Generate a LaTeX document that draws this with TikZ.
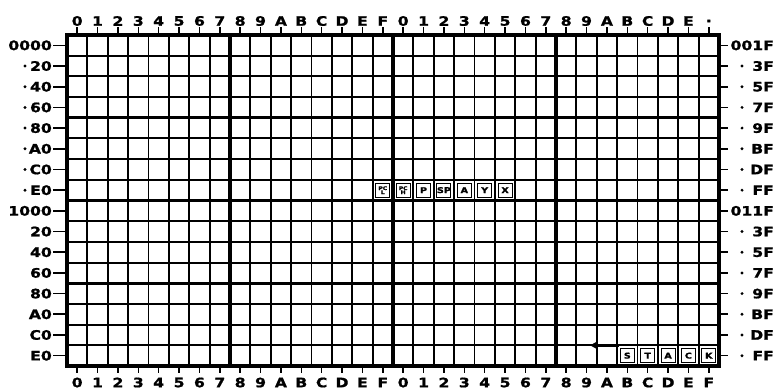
\documentclass[tikz,border=0pt]{standalone}
\usepackage{fontspec}
\setmainfont{DejaVu Sans}
\newfontfamily\labfont[FakeStretch=1.2,FakeBold=1.2]{DejaVu Sans Bold}
\usetikzlibrary{arrows.meta}
\begin{document}
\begin{tikzpicture}[x=1pt,y=-1pt,
  gridthin/.style={line width=1.9pt,black},
  gridthick/.style={line width=3.4pt,black},
  border/.style={line width=4.2pt,black},
  tickline/.style={line width=1.6pt,black},
  lab/.style={font=\labfont\fontsize{13}{13}\selectfont,inner sep=0pt},
  regbox/.style={draw,line width=1.1pt,minimum width=14pt,minimum height=14pt,inner sep=0pt,font=\labfont\fontsize{8}{8}\selectfont},
  regsmall/.style={draw,line width=1.1pt,minimum width=14pt,minimum height=14pt,inner sep=0pt,align=center,font=\labfont\fontsize{5}{5}\selectfont},
  stackarrow/.style={line width=2.8pt,-{Triangle[length=7pt,width=7pt]}}]
\useasboundingbox (0,0) rectangle (775,389);
\pgfmathsetmacro{\L}{67}
\pgfmathsetmacro{\R}{719}
\pgfmathsetmacro{\T}{35}
\pgfmathsetmacro{\B}{366}
\pgfmathsetmacro{\cw}{20.375}
\pgfmathsetmacro{\ch}{20.6875}
% grid
\foreach \i in {1,...,31} {
  \draw[gridthin] ({\L+\i*\cw},\T) -- ({\L+\i*\cw},\B);
}
\foreach \j in {1,...,15} {
  \draw[gridthin] (\L,{\T+\j*\ch}) -- (\R,{\T+\j*\ch});
}
\foreach \i in {8,16,24} {
  \draw[gridthick] ({\L+\i*\cw},\T) -- ({\L+\i*\cw},\B);
}
\foreach \j in {4,8,12} {
  \draw[gridthick] (\L,{\T+\j*\ch}) -- (\R,{\T+\j*\ch});
}
\draw[border] (\L,\T) rectangle (\R,\B);
% column labels
\foreach \t [count=\n from 0] in {0,1,2,3,4,5,6,7,8,9,A,B,C,D,E,F,0,1,2,3,4,5,6,7,8,9,A,B,C,D,E,.} {
  \node[lab] (top\n) at ({\L+(\n+0.5)*\cw},21) {\t};
  \draw[tickline] ({\L+(\n+0.5)*\cw},\T) -- ({\L+(\n+0.5)*\cw},27);
}
\foreach \t [count=\n from 0] in {0,1,2,3,4,5,6,7,8,9,A,B,C,D,E,F,0,1,2,3,4,5,6,7,8,9,A,B,C,D,E,F} {
  \node[lab] (bot\n) at ({\L+(\n+0.5)*\cw},382.5) {\t};
  \draw[tickline] ({\L+(\n+0.5)*\cw},\B) -- ({\L+(\n+0.5)*\cw},373);
}
% left row labels
\foreach \t [count=\n from 0] in {0000,20,40,60,80,A0,C0,E0,1000,20,40,60,80,A0,C0,E0} {
  \node[lab,anchor=east] (left\n) at (52,{\T+(\n+0.5)*\ch}) {\t};
  \draw[tickline] (left\n.east) ++(1,0) -- (\L,{\T+(\n+0.5)*\ch});
}
\foreach \n in {1,...,7} {
  \fill (25,{\T+(\n+0.5)*\ch}) circle (1.6pt);
}
% right row labels
\foreach \t [count=\n from 0] in {001F,3F,5F,7F,9F,BF,DF,FF,011F,3F,5F,7F,9F,BF,DF,FF} {
  \node[lab,anchor=east] (right\n) at (774,{\T+(\n+0.5)*\ch}) {\t};
  \draw[tickline] (\R,{\T+(\n+0.5)*\ch}) -- (728,{\T+(\n+0.5)*\ch});
}
\foreach \n in {1,...,7,9,10,11,12,13,14,15} {
  \fill (742,{\T+(\n+0.5)*\ch}) circle (1.6pt);
}
% registers in row E0
\node[regsmall] (pcl) at ({\L+15.5*\cw},{\T+7.5*\ch}) {PC\\[-1pt]L};
\node[regsmall] (pch) at ({\L+16.5*\cw},{\T+7.5*\ch}) {PC\\[-1pt]H};
\node[regbox] (regp) at ({\L+17.5*\cw},{\T+7.5*\ch}) {P};
\node[regbox] (regsp) at ({\L+18.5*\cw},{\T+7.5*\ch}) {SP};
\node[regbox] (rega) at ({\L+19.5*\cw},{\T+7.5*\ch}) {A};
\node[regbox] (regy) at ({\L+20.5*\cw},{\T+7.5*\ch}) {Y};
\node[regbox] (regx) at ({\L+21.5*\cw},{\T+7.5*\ch}) {X};
% stack
\node[regbox] (sts) at ({\L+27.5*\cw},{\T+15.5*\ch}) {S};
\node[regbox] (stt) at ({\L+28.5*\cw},{\T+15.5*\ch}) {T};
\node[regbox] (sta) at ({\L+29.5*\cw},{\T+15.5*\ch}) {A};
\node[regbox] (stc) at ({\L+30.5*\cw},{\T+15.5*\ch}) {C};
\node[regbox] (stk) at ({\L+31.5*\cw},{\T+15.5*\ch}) {K};
\coordinate (arrstart) at ({\L+27*\cw+2},{\T+15*\ch});
\coordinate (arrend) at (590,{\T+15*\ch});
\draw[stackarrow] (arrstart) -- (arrend);
\end{tikzpicture}
\end{document}
